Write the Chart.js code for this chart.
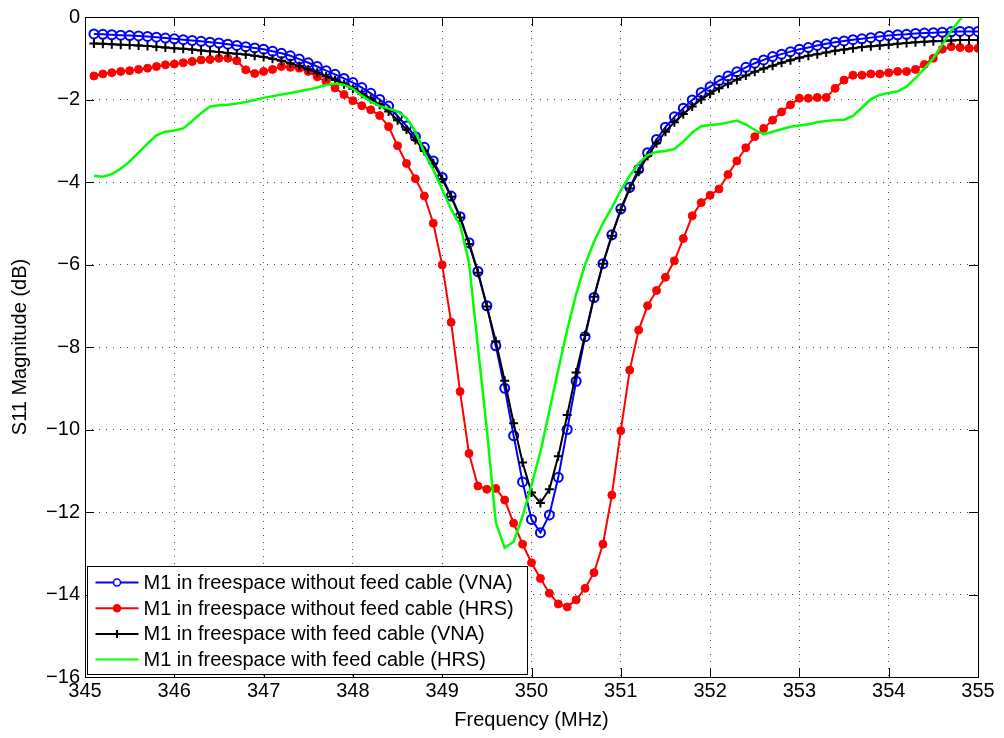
<!DOCTYPE html>
<html>
<head>
<meta charset="utf-8">
<script src="https://cdn.jsdelivr.net/npm/chart.js@4.4.1/dist/chart.umd.min.js"></script>
<style>
  html, body { margin: 0; padding: 0; background: #fff; }
  .container { width: 1004px; height: 738px; position: relative; }
</style>
</head>
<body>
<div class="container"><canvas id="s11Chart" width="1004" height="738"></canvas></div>
<script>
// Frekuensi sampel (MHz)
const freq = [
  345.1, 345.2, 345.3, 345.4, 345.5, 345.6, 345.7, 345.8, 345.9, 346.0,
  346.1, 346.2, 346.3, 346.4, 346.5, 346.6, 346.7, 346.8, 346.9, 347.0,
  347.1, 347.2, 347.3, 347.4, 347.5, 347.6, 347.7, 347.8, 347.9, 348.0,
  348.1, 348.2, 348.3, 348.4, 348.5, 348.6, 348.7, 348.8, 348.9, 349.0,
  349.1, 349.2, 349.3, 349.4, 349.5, 349.6, 349.7, 349.8, 349.9, 350.0,
  350.1, 350.2, 350.3, 350.4, 350.5, 350.6, 350.7, 350.8, 350.9, 351.0,
  351.1, 351.2, 351.3, 351.4, 351.5, 351.6, 351.7, 351.8, 351.9, 352.0,
  352.1, 352.2, 352.3, 352.4, 352.5, 352.6, 352.7, 352.8, 352.9, 353.0,
  353.1, 353.2, 353.3, 353.4, 353.5, 353.6, 353.7, 353.8, 353.9, 354.0,
  354.1, 354.2, 354.3, 354.4, 354.5, 354.6, 354.7, 354.8, 354.9, 355.0
];

// M1 tanpa kabel (VNA)
const noCableVna = [
  -0.41, -0.42, -0.43, -0.44, -0.45, -0.46, -0.47, -0.49, -0.51, -0.53,
  -0.55, -0.57, -0.59, -0.61, -0.63, -0.66, -0.69, -0.72, -0.75, -0.78,
  -0.83, -0.88, -0.94, -1.02, -1.11, -1.20, -1.30, -1.39, -1.49, -1.59,
  -1.71, -1.85, -2.00, -2.16, -2.40, -2.64, -2.90, -3.16, -3.49, -3.89,
  -4.34, -4.84, -5.47, -6.17, -7.00, -7.97, -9.00, -10.15, -11.27, -12.18,
  -12.50, -12.07, -11.16, -10.00, -8.83, -7.75, -6.80, -5.98, -5.28, -4.65,
  -4.13, -3.69, -3.29, -2.97, -2.67, -2.42, -2.21, -2.01, -1.83, -1.69,
  -1.54, -1.43, -1.33, -1.22, -1.12, -1.04, -0.96, -0.90, -0.84, -0.78,
  -0.74, -0.69, -0.65, -0.61, -0.58, -0.55, -0.53, -0.50, -0.47, -0.45,
  -0.43, -0.42, -0.40, -0.39, -0.38, -0.37, -0.36, -0.35, -0.35, -0.35
];

// M1 tanpa kabel (HRS)
const noCableHrs = [
  -1.43, -1.38, -1.35, -1.32, -1.30, -1.27, -1.24, -1.20, -1.16, -1.14,
  -1.11, -1.08, -1.04, -1.03, -1.00, -1.00, -1.06, -1.28, -1.37, -1.32,
  -1.27, -1.20, -1.22, -1.24, -1.32, -1.45, -1.57, -1.72, -1.88, -2.03,
  -2.15, -2.25, -2.39, -2.66, -3.12, -3.55, -3.92, -4.34, -5.00, -6.01,
  -7.40, -9.08, -10.58, -11.37, -11.45, -11.43, -11.71, -12.27, -12.78, -13.23,
  -13.61, -13.97, -14.23, -14.30, -14.13, -13.85, -13.47, -12.78, -11.59, -10.03,
  -8.56, -7.59, -7.00, -6.63, -6.31, -5.91, -5.37, -4.82, -4.50, -4.32,
  -4.17, -3.82, -3.49, -3.17, -2.90, -2.70, -2.50, -2.30, -2.13, -1.97,
  -1.97, -1.95, -1.95, -1.73, -1.53, -1.41, -1.41, -1.38, -1.38, -1.35,
  -1.32, -1.32, -1.27, -1.15, -1.00, -0.78, -0.72, -0.74, -0.76, -0.76
];

// M1 dengan kabel (VNA)
const withCableVna = [
  -0.64, -0.65, -0.66, -0.67, -0.68, -0.69, -0.70, -0.72, -0.74, -0.76,
  -0.77, -0.79, -0.81, -0.83, -0.85, -0.87, -0.89, -0.91, -0.94, -0.97,
  -1.01, -1.06, -1.12, -1.19, -1.27, -1.35, -1.44, -1.53, -1.63, -1.74,
  -1.86, -1.99, -2.13, -2.29, -2.50, -2.73, -2.98, -3.25, -3.55, -3.93,
  -4.36, -4.86, -5.50, -6.20, -7.02, -7.86, -8.82, -9.85, -10.80, -11.53,
  -11.78, -11.45, -10.65, -9.65, -8.62, -7.71, -6.78, -5.98, -5.30, -4.68,
  -4.16, -3.75, -3.37, -3.06, -2.78, -2.55, -2.35, -2.17, -2.00, -1.86,
  -1.73, -1.62, -1.52, -1.42, -1.33, -1.25, -1.18, -1.11, -1.05, -0.99,
  -0.94, -0.90, -0.86, -0.82, -0.79, -0.76, -0.73, -0.71, -0.69, -0.67,
  -0.65, -0.63, -0.61, -0.60, -0.59, -0.58, -0.57, -0.56, -0.56, -0.56
];

// M1 dengan kabel (HRS)
const withCableHrs = [
  -3.85, -3.87, -3.81, -3.68, -3.50, -3.29, -3.07, -2.87, -2.78, -2.75,
  -2.70, -2.52, -2.33, -2.17, -2.14, -2.13, -2.10, -2.06, -2.01, -1.96,
  -1.92, -1.88, -1.84, -1.80, -1.76, -1.71, -1.65, -1.61, -1.64, -1.74,
  -1.91, -2.05, -2.16, -2.22, -2.29, -2.45, -2.78, -3.28, -3.70, -4.18,
  -4.66, -5.04, -5.95, -8.00, -10.00, -12.25, -12.87, -12.72, -12.10, -11.35,
  -10.54, -9.55, -8.55, -7.58, -6.72, -6.00, -5.45, -5.00, -4.62, -4.20,
  -3.85, -3.55, -3.35, -3.27, -3.25, -3.20, -3.02, -2.80, -2.65, -2.62,
  -2.60, -2.56, -2.51, -2.60, -2.74, -2.84, -2.78, -2.72, -2.66, -2.63,
  -2.60, -2.55, -2.52, -2.50, -2.49, -2.40, -2.20, -1.99, -1.89, -1.84,
  -1.80, -1.69, -1.48, -1.25, -1.00, -0.67, -0.33, -0.06, 0.22, 0.50
];

const seriesNames = [
  'M1 in freespace without feed cable (VNA)',
  'M1 in freespace without feed cable (HRS)',
  'M1 in freespace with feed cable (VNA)',
  'M1 in freespace with feed cable (HRS)'
];

const xTicks = [345, 346, 347, 348, 349, 350, 351, 352, 353, 354, 355];
const yTicks = [0, -2, -4, -6, -8, -10, -12, -14, -16];

const FONT = 'Liberation Sans, Arial, Helvetica, sans-serif';

const toPoints = vals => vals.map((v, i) => ({ x: freq[i], y: v }));

// Bingkai dan tick ke dalam ala MATLAB
const framePlugin = {
  id: 'frame',
  afterDatasetsDraw(chart) {
    const { ctx, chartArea: a, scales } = chart;
    ctx.save();
    ctx.strokeStyle = '#000';
    ctx.lineWidth = 1;
    ctx.beginPath();
    const tl = 9;
    xTicks.forEach(v => {
      const px = Math.round(scales.x.getPixelForValue(v)) + 0.5;
      ctx.moveTo(px, a.bottom); ctx.lineTo(px, a.bottom - tl);
      ctx.moveTo(px, a.top); ctx.lineTo(px, a.top + tl);
    });
    yTicks.forEach(v => {
      const py = Math.round(scales.y.getPixelForValue(v)) + 0.5;
      ctx.moveTo(a.left, py); ctx.lineTo(a.left + tl, py);
      ctx.moveTo(a.right, py); ctx.lineTo(a.right - tl, py);
    });
    ctx.stroke();
    ctx.strokeRect(Math.round(a.left) + 0.5, Math.round(a.top) + 0.5,
      Math.round(a.right - a.left), Math.round(a.bottom - a.top));
    ctx.restore();
  }
};

// Legenda di kiri bawah
const legendPlugin = {
  id: 'boxLegend',
  afterDraw(chart) {
    const { ctx, chartArea: a } = chart;
    const rowH = 25.7;
    const boxH = 108;
    const boxW = 440;
    const x0 = Math.round(a.left) + 2.5;
    const y0 = Math.round(a.bottom) - 2.5 - boxH;
    ctx.save();
    ctx.fillStyle = '#fff';
    ctx.fillRect(x0, y0, boxW, boxH);
    ctx.strokeStyle = '#000';
    ctx.lineWidth = 1;
    ctx.strokeRect(x0, y0, boxW, boxH);
    ctx.font = '20px ' + FONT;
    ctx.textBaseline = 'middle';
    chart.data.datasets.forEach((ds, i) => {
      const y = y0 + 16 + i * rowH;
      const lx0 = x0 + 8, lx1 = x0 + 51, mx = (lx0 + lx1) / 2;
      ctx.strokeStyle = ds.borderColor;
      ctx.lineWidth = 2;
      ctx.beginPath();
      ctx.moveTo(lx0, y); ctx.lineTo(lx1, y);
      ctx.stroke();
      if (ds.pointStyle === 'circle' && ds.pointRadius > 0) {
        ctx.beginPath();
        ctx.arc(mx, y, 3.5, 0, Math.PI * 2);
        ctx.fillStyle = ds.pointBackgroundColor !== 'transparent' ? ds.pointBackgroundColor : '#fff';
        ctx.fill();
        ctx.strokeStyle = ds.borderColor;
        ctx.lineWidth = 1.5;
        ctx.stroke();
      } else if (ds.pointStyle === 'cross' && ds.pointRadius > 0) {
        ctx.beginPath();
        ctx.moveTo(mx - 4, y); ctx.lineTo(mx + 4, y);
        ctx.moveTo(mx, y - 4); ctx.lineTo(mx, y + 4);
        ctx.stroke();
      }
      ctx.fillStyle = '#000';
      ctx.fillText(seriesNames[i], x0 + 56, y + 1);
    });
    ctx.restore();
  }
};

function createChart() {
  new Chart(document.getElementById('s11Chart'), {
    type: 'line',
    data: {
      datasets: [{
        label: seriesNames[0],
        data: toPoints(noCableVna),
        borderColor: '#0000ff',
        borderWidth: 2,
        pointStyle: 'circle',
        pointRadius: 4.5,
        pointBorderWidth: 2,
        pointBorderColor: '#0000ff',
        pointBackgroundColor: 'transparent',
        order: 4
      }, {
        label: seriesNames[1],
        data: toPoints(noCableHrs),
        borderColor: '#ff0000',
        borderWidth: 2,
        pointStyle: 'circle',
        pointRadius: 4,
        pointBorderWidth: 1,
        pointBorderColor: '#ff0000',
        pointBackgroundColor: '#ff0000',
        order: 3
      }, {
        label: seriesNames[2],
        data: toPoints(withCableVna),
        borderColor: '#000000',
        borderWidth: 2,
        pointStyle: 'cross',
        pointRadius: 4.5,
        pointBorderWidth: 2,
        pointBorderColor: '#000000',
        order: 2
      }, {
        label: seriesNames[3],
        data: toPoints(withCableHrs),
        borderColor: '#00ff00',
        borderWidth: 2.5,
        pointStyle: 'circle',
        pointRadius: 0,
        order: 1
      }]
    },
    options: {
      responsive: false,
      animation: false,
      events: [],
      layout: { padding: { left: 0, top: 17, right: 26, bottom: 0 } },
      scales: {
        x: {
          type: 'linear',
          min: 345,
          max: 355,
          afterBuildTicks: s => { s.ticks = xTicks.map(v => ({ value: v })); },
          afterFit: s => { s.height = 61; },
          ticks: {
            color: '#000',
            font: { family: FONT, size: 20 },
            padding: 2,
            maxRotation: 0,
            autoSkip: false,
            callback: v => String(v)
          },
          grid: { color: 'rgba(0,0,0,0.7)', lineWidth: 1, drawTicks: false },
          border: { display: false, dash: [1, 6] },
          title: {
            display: true,
            text: 'Frequency (MHz)',
            color: '#000',
            font: { family: FONT, size: 20 },
            padding: { top: 0, bottom: 6 }
          }
        },
        y: {
          type: 'linear',
          min: -16,
          max: 0,
          afterBuildTicks: s => { s.ticks = yTicks.map(v => ({ value: v })); },
          afterFit: s => { s.width = 85; },
          ticks: {
            color: '#000',
            font: { family: FONT, size: 20 },
            padding: 5,
            autoSkip: false,
            callback: v => (v < 0 ? '\u2212' + Math.abs(v) : String(v))
          },
          grid: { color: 'rgba(0,0,0,0.7)', lineWidth: 1, drawTicks: false },
          border: { display: false, dash: [1, 6] },
          title: {
            display: true,
            text: 'S11 Magnitude (dB)',
            color: '#000',
            font: { family: FONT, size: 20 },
            padding: { top: 8, bottom: 0 }
          }
        }
      },
      plugins: {
        legend: { display: false },
        tooltip: { enabled: false }
      }
    },
    plugins: [framePlugin, legendPlugin]
  });
}

createChart();
</script>
</body>
</html>
